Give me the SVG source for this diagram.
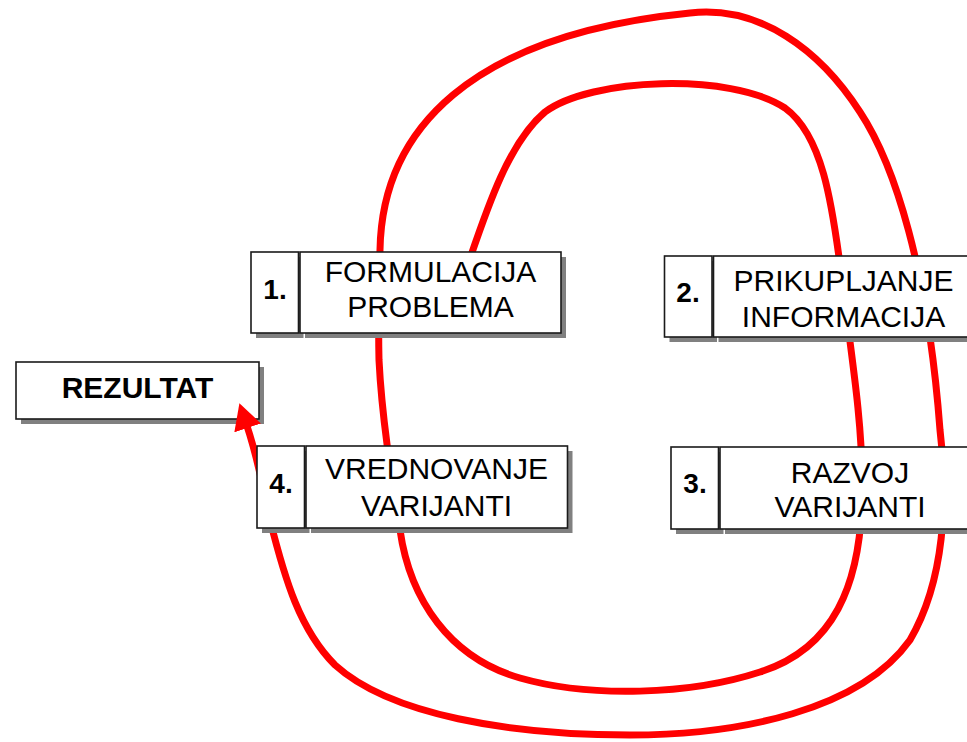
<svg xmlns="http://www.w3.org/2000/svg" width="967" height="742" viewBox="0 0 967 742">
  <style>
    .shadow { fill: #808080; }
    .cell { fill: #ffffff; stroke: #1a1a1a; stroke-width: 1.6; }
    .num { font-family: "Liberation Sans", Arial, sans-serif; font-size: 28px; font-weight: bold; fill: #000; text-anchor: middle; }
    .label { font-family: "Liberation Sans", Arial, sans-serif; font-size: 30px; fill: #000; text-anchor: middle; }
    .result { font-family: "Liberation Sans", Arial, sans-serif; font-size: 30px; font-weight: bold; fill: #000; text-anchor: middle; }
    .flow { fill: none; stroke: #ff0000; stroke-width: 7; stroke-linejoin: round; }
  </style>
  <defs>
    <marker id="head" markerUnits="userSpaceOnUse" markerWidth="28" markerHeight="28" viewBox="0 0 28 28" refX="2" refY="14" orient="auto">
      <path d="M0,0 L26,14 L0,28 Z" fill="#ff0000"/>
    </marker>
  </defs>

  <rect width="967" height="742" fill="#ffffff"/>

  <!-- result box -->
  <g id="rezultat">
    <rect class="shadow" x="21" y="367" width="243" height="57"/>
    <rect class="cell" x="16" y="362" width="243" height="57"/>
    <text class="result" x="137.5" y="398">REZULTAT</text>
  </g>

  <!-- spiral connector from step 1 through all steps to the result -->
  <g id="connectors">
    <path class="flow" marker-end="url(#head)" d="M 452,310
      C 478,240 500,150 545,112
      C 590,78 730,72 785,108
      C 822,135 832,200 842,280
      C 852,360 862,420 862,480
      C 864,590 830,650 760,672
      C 690,695 590,698 520,678
      C 450,658 410,600 400,530
      C 392,480 382,420 379,360
      C 378,320 379,290 380,250
      C 382,130 470,35 690,13
      C 760,5 820,50 860,112
      C 895,165 928,270 940,430
      C 948,500 945,580 910,640
      C 860,710 740,735 630,735
      C 510,735 390,715 335,665
      C 300,630 285,580 270,520
      C 262,480 255,450 247,426"/>
  </g>

  <!-- step 1 -->
  <g id="step1">
    <rect class="shadow" x="256" y="257" width="47.5" height="81"/>
    <rect class="shadow" x="305" y="257" width="261" height="81"/>
    <rect class="cell" x="251" y="252" width="47.5" height="81"/>
    <rect class="cell" x="300" y="252" width="261" height="81"/>
    <text class="num" x="275" y="299">1.</text>
    <text class="label" x="430.5" y="282">FORMULACIJA</text>
    <text class="label" x="430.5" y="317">PROBLEMA</text>
  </g>

  <!-- step 2 -->
  <g id="step2">
    <rect class="shadow" x="669.5" y="261" width="47.5" height="81"/>
    <rect class="shadow" x="718.5" y="261" width="261" height="81"/>
    <rect class="cell" x="664.5" y="256" width="47.5" height="81"/>
    <rect class="cell" x="713.5" y="256" width="261" height="81"/>
    <text class="num" x="688" y="302">2.</text>
    <text class="label" x="843.5" y="291">PRIKUPLJANJE</text>
    <text class="label" x="843.5" y="327">INFORMACIJA</text>
  </g>

  <!-- step 3 -->
  <g id="step3">
    <rect class="shadow" x="676" y="452" width="47.5" height="82"/>
    <rect class="shadow" x="725" y="452" width="262" height="82"/>
    <rect class="cell" x="671" y="447" width="47.5" height="82"/>
    <rect class="cell" x="720" y="447" width="262" height="82"/>
    <text class="num" x="695" y="493">3.</text>
    <text class="label" x="850" y="483">RAZVOJ</text>
    <text class="label" x="850" y="517">VARIJANTI</text>
  </g>

  <!-- step 4 -->
  <g id="step4">
    <rect class="shadow" x="262" y="451" width="47.5" height="82"/>
    <rect class="shadow" x="311" y="451" width="261.5" height="82"/>
    <rect class="cell" x="257" y="446" width="47.5" height="82"/>
    <rect class="cell" x="306" y="446" width="261.5" height="82"/>
    <text class="num" x="281" y="493">4.</text>
    <text class="label" x="436.5" y="479">VREDNOVANJE</text>
    <text class="label" x="436.5" y="516">VARIJANTI</text>
  </g>
</svg>
